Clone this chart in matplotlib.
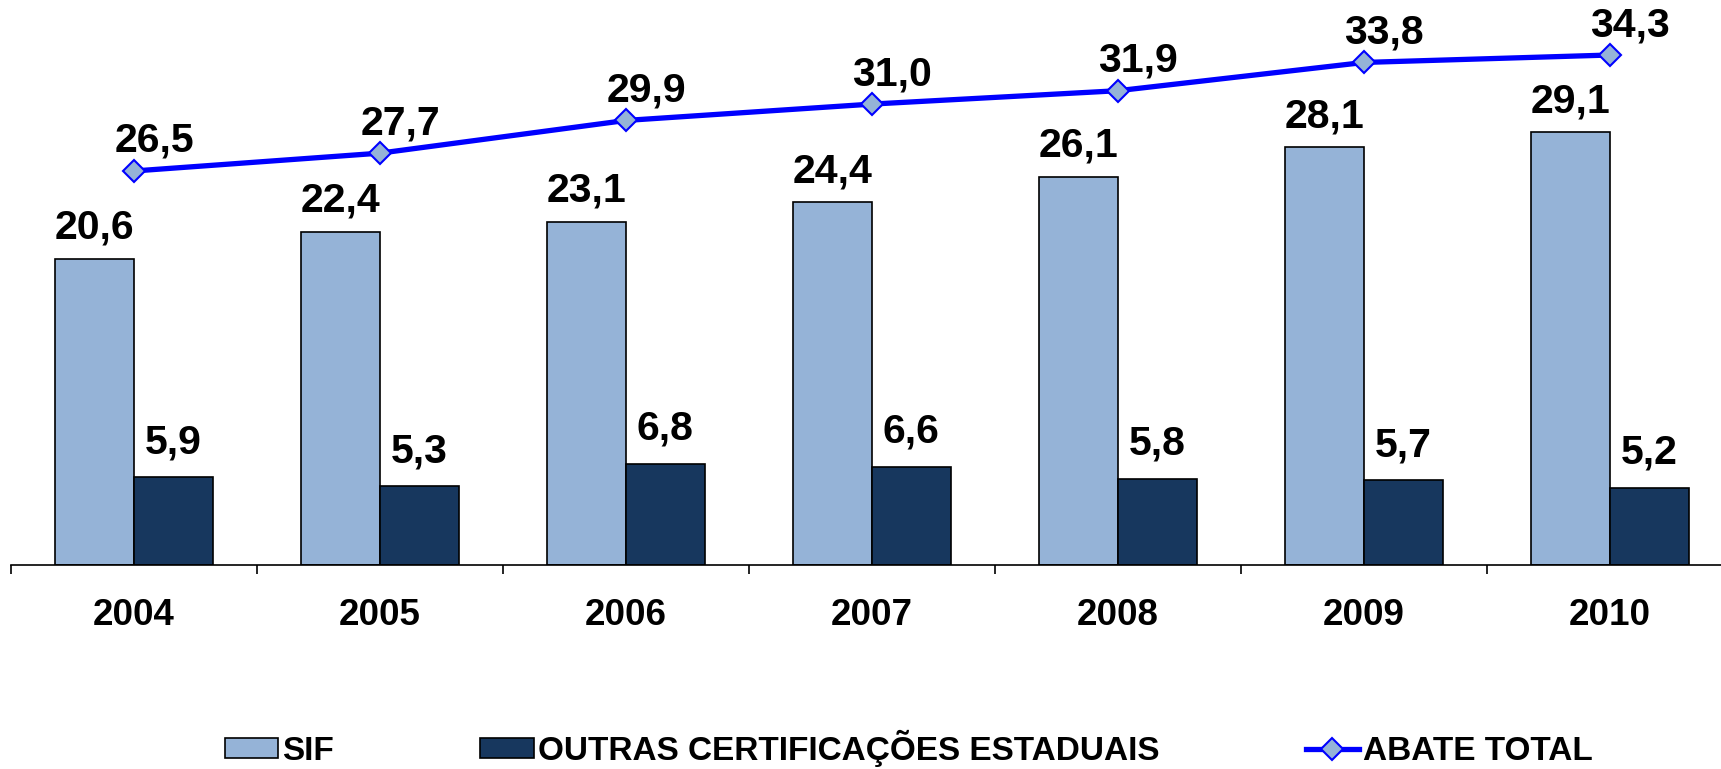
import matplotlib
matplotlib.use("Agg")
import matplotlib.pyplot as plt
import numpy as np
from matplotlib.lines import Line2D
from matplotlib.patches import Patch

years = ["2004", "2005", "2006", "2007", "2008", "2009", "2010"]
sif = [20.6, 22.4, 23.1, 24.4, 26.1, 28.1, 29.1]
outras = [5.9, 5.3, 6.8, 6.6, 5.8, 5.7, 5.2]
total = [26.5, 27.7, 29.9, 31.0, 31.9, 33.8, 34.3]


def fmt(v):
  return f"{v:.1f}".replace(".", ",")


def main():
  plt.rcParams['font.family'] = ['Liberation Sans', 'DejaVu Sans']
  plt.rcParams['font.weight'] = 'bold'

  fig = plt.figure(figsize=(17.21, 7.69), dpi=100)
  ax = fig.add_axes([10 / 1568, 0.2653, 1569 / 1568, 0.7347])

  x = np.arange(len(years))
  w = 0.32
  c_sif = '#95B3D7'
  c_out = '#17375E'
  c_line = '#0000FF'

  ax.bar(x - w / 2, sif, w, color=c_sif, edgecolor='black', linewidth=1.2, zorder=2)
  ax.bar(x + w / 2, outras, w, color=c_out, edgecolor='black', linewidth=1.2, zorder=2)
  ax.plot(x, total, color=c_line, linewidth=3.8, marker='D', markersize=11,
          markerfacecolor=c_sif, markeredgecolor=c_line, markeredgewidth=1.5, zorder=3)

  fs = 29.5
  for i in range(len(years)):
    ax.annotate(fmt(sif[i]), (x[i] - w / 2, sif[i]), xytext=(0, 31),
                textcoords='offset pixels', ha='center', va='center', fontsize=fs, fontweight='bold')
    ax.annotate(fmt(outras[i]), (x[i] + w / 2, outras[i]), xytext=(0, 35),
                textcoords='offset pixels', ha='center', va='center', fontsize=fs, fontweight='bold')
    ax.annotate(fmt(total[i]), (x[i], total[i]), xytext=(20, 30),
                textcoords='offset pixels', ha='center', va='center', fontsize=fs, fontweight='bold')

  ax.set_xlim(-0.5, len(years) - 0.5)
  ax.set_ylim(0, 38.0)

  for s in ['left', 'right', 'top']:
    ax.spines[s].set_visible(False)
  ax.spines['bottom'].set_linewidth(1.2)
  ax.set_yticks([])

  ax.set_xticks(np.arange(-0.5, len(years), 1.0))
  ax.set_xticklabels([])
  ax.tick_params(axis='x', which='major', direction='out', length=6.5, width=1.2)
  ax.set_xticks(x, minor=True)
  ax.set_xticklabels(years, minor=True, fontsize=26.5, fontweight='bold')
  ax.tick_params(axis='x', which='minor', length=0, pad=24)

  handles = [
    Patch(facecolor=c_sif, edgecolor='black', linewidth=1.2),
    Patch(facecolor=c_out, edgecolor='black', linewidth=1.2),
    Line2D([0], [0], color=c_line, linewidth=3.8, marker='D', markersize=11,
           markerfacecolor=c_sif, markeredgecolor=c_line, markeredgewidth=1.5),
  ]
  labels = ["SIF", "OUTRAS CERTIFICAÇÕES ESTADUAIS", "ABATE TOTAL"]
  fig.legend(handles, labels, loc='center', bbox_to_anchor=(0.528, 0.0265), ncol=3,
             frameon=False, prop={'size': 24, 'weight': 'bold'},
             handlelength=1.6, handleheight=0.55, handletextpad=0.12, columnspacing=4.4)

  fig.savefig('out.png', dpi=100)


if __name__ == '__main__':
  main()
